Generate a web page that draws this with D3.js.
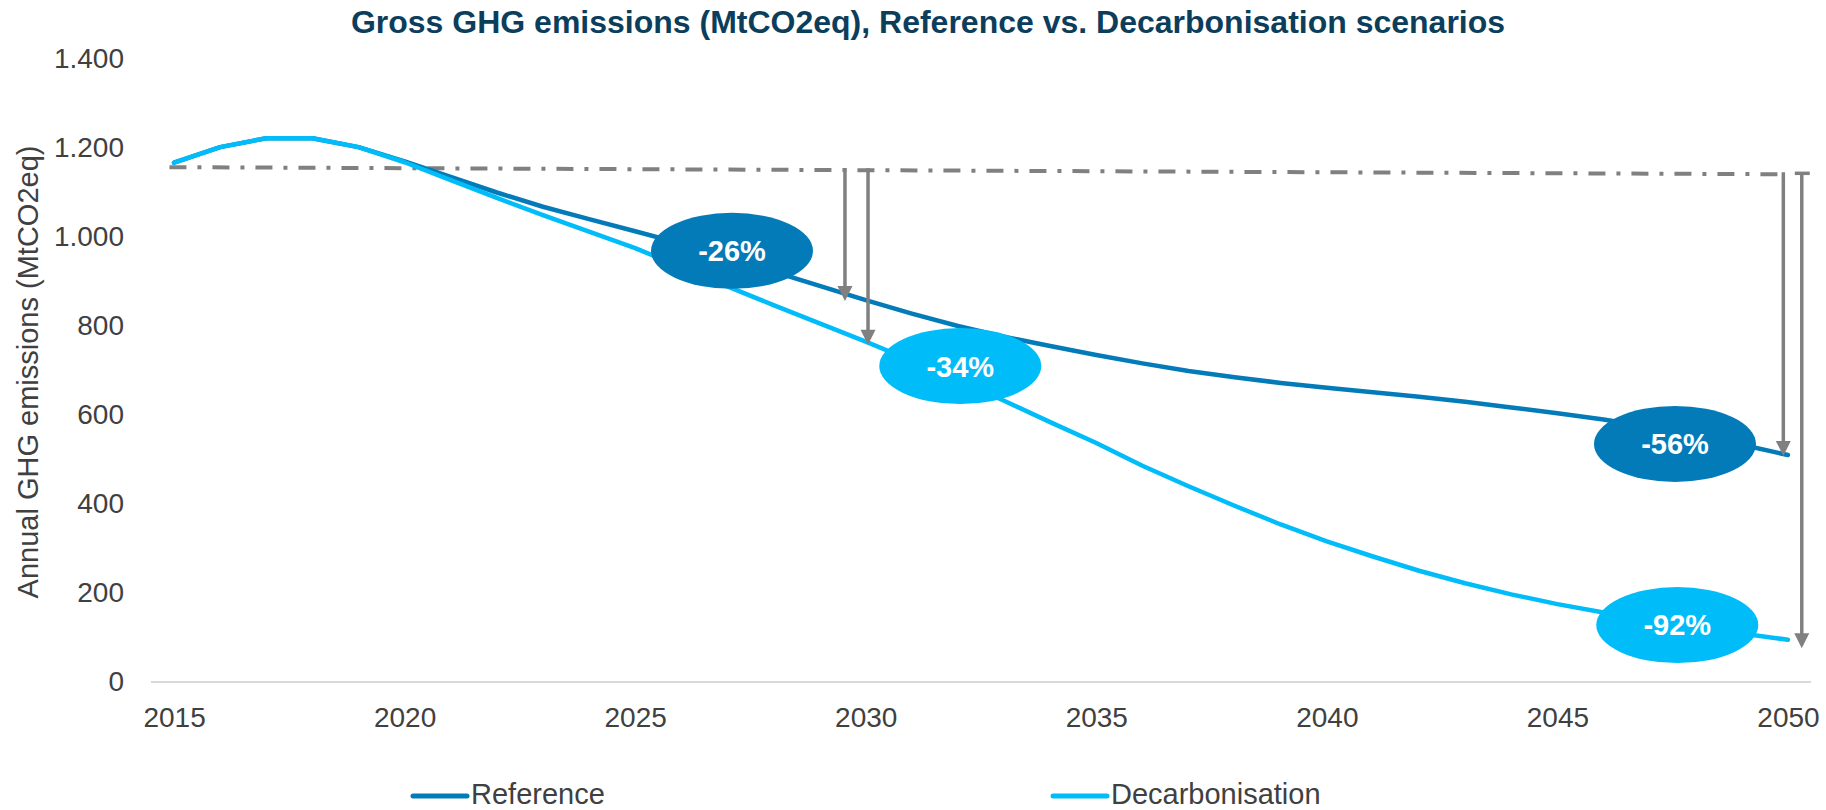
<!DOCTYPE html>
<html>
<head>
<meta charset="utf-8">
<script src="https://cdn.jsdelivr.net/npm/d3@7/dist/d3.min.js"></script>
<style>
body { margin: 0; background: #fff; }
svg text { font-family: "Liberation Sans", Arial, sans-serif; }
</style>
</head>
<body>
<div id="chart"></div>
<script>
// data
var years = [2015,2016,2017,2018,2019,2020,2021,2022,2023,2024,2025,2026,2027,2028,2029,2030,
             2031,2032,2033,2034,2035,2036,2037,2038,2039,2040,2041,2042,2043,2044,2045,2046,
             2047,2048,2049,2050];
var reference = [1167,1202,1222,1222,1202,1170,1135,1100,1068,1040,1013,985,955,922,890,858,
                 828,800,776,755,735,716,699,685,672,661,651,641,630,617,604,590,
                 573,553,533,510];
var decarbonisation = [1167,1202,1222,1222,1202,1168,1128,1088,1049,1012,975,932,889,847,806,765,
                       722,678,632,584,537,486,440,396,354,316,282,250,222,197,175,156,
                       139,124,109,95];
var yTicks = [0,200,400,600,800,1000,1200,1400];
var xTicks = [2015,2020,2025,2030,2035,2040,2045,2050];
var seriesNames = ["Reference", "Decarbonisation"];

// 2015 level line and the reduction call-outs
var baseLevel = [1157, 1141];
var bubbleLabels = ["-26%", "-34%", "-56%", "-92%"];
var bubbleSeries = [0, 1, 0, 1];
var bubbleYears = [2027.1, 2032.05, 2047.55, 2047.6];
var bubbleValues = [969, 710, 535, 128];
var arrowYears = [2029.55, 2030.05, 2049.9, 2050.3];
var arrowTargets = [856, 758, 508, 76];

var colors = ["#047bb9", "#00bdfa"];

var chart = function(options){

    var self = {};
    for (var key in options) {
        self[key] = options[key];
    }

    self.init = function(){
        self.svg = d3.select("#" + self.parentId).append("svg")
            .attr("width", self.width)
            .attr("height", self.height);

        self.x = d3.scalePoint().domain(years).range([151, 1811]).padding(0.5);
        self.xl = d3.scaleLinear().domain([2015, 2050]).range([self.x(2015), self.x(2050)]);
        self.y = d3.scaleLinear().domain([0, 1400]).range([682, 59]);

        var loc = d3.formatLocale({decimal: ",", thousands: ".", grouping: [3], currency: ["", "€"]});
        self.fmt = loc.format(",d");
    };

    self.render = function(){
        var x = self.x, xl = self.xl, y = self.y, svg = self.svg;

        // title
        svg.append("text")
            .attr("x", 928).attr("y", 33)
            .attr("text-anchor", "middle")
            .style("font-size", "32px").style("font-weight", "bold")
            .style("fill", "#0c3e5c")
            .text("Gross GHG emissions (MtCO2eq), Reference vs. Decarbonisation scenarios");

        // zero line
        svg.append("line")
            .attr("x1", 151).attr("x2", 1811)
            .attr("y1", y(0)).attr("y2", y(0))
            .style("stroke", "#d9d9d9").style("stroke-width", 2);

        svg.append("g")
            .attr("transform", "translate(151,0)")
            .call(d3.axisLeft(y).tickValues(yTicks).tickSize(0).tickPadding(27).tickFormat(self.fmt));
        svg.append("g")
            .attr("transform", "translate(0," + y(0) + ")")
            .call(d3.axisBottom(x).tickValues(xTicks).tickSize(0).tickPadding(25));
        svg.selectAll(".domain").remove();
        svg.selectAll(".tick text")
            .style("font-size", "28px").style("fill", "#404040")
            .style("font-family", "'Liberation Sans', Arial, sans-serif");

        svg.append("text")
            .attr("transform", "translate(38,372) rotate(-90)")
            .attr("text-anchor", "middle")
            .style("font-size", "29px").style("fill", "#404040")
            .text("Annual GHG emissions (MtCO2eq)");

        // dash-dot 2015 level
        svg.append("line")
            .attr("x1", xl(2014.9)).attr("x2", xl(arrowYears[2]))
            .attr("y1", y(baseLevel[0])).attr("y2", y(baseLevel[1]))
            .style("stroke", "#808080").style("stroke-width", 4)
            .style("stroke-dasharray", "17,11,4,11");

        // series
        var line = d3.line()
            .x(function(d, i) { return x(years[i]); })
            .y(function(d) { return y(d); });

        [reference, decarbonisation].forEach(function(s, k){
            svg.append("path")
                .datum(s)
                .attr("d", line)
                .style("fill", "none")
                .style("stroke", colors[k])
                .style("stroke-width", 4.5)
                .style("stroke-linejoin", "round")
                .style("stroke-linecap", "round");
        });

        // arrows
        var levelAt = function(yr){
            return baseLevel[0] + (baseLevel[1] - baseLevel[0]) * (yr - 2015) / 35;
        };
        arrowYears.forEach(function(yr, i){
            var ax = xl(yr), top = y(levelAt(yr)) - 2, tip = y(arrowTargets[i]);
            svg.append("line")
                .attr("x1", ax).attr("x2", ax)
                .attr("y1", top).attr("y2", tip - 12)
                .style("stroke", "#808080").style("stroke-width", 3.5);
            svg.append("path")
                .attr("d", "M" + (ax - 7.5) + "," + (tip - 15) + "L" + (ax + 7.5) + "," + (tip - 15) + "L" + ax + "," + tip + "Z")
                .style("fill", "#808080");
            if (i == 3) {
                svg.append("line")
                    .attr("x1", ax - 7).attr("x2", ax + 8)
                    .attr("y1", top + 1).attr("y2", top + 1)
                    .style("stroke", "#808080").style("stroke-width", 3.5);
            }
        });

        // bubbles
        var b = svg.selectAll(".bubble")
            .data(bubbleLabels)
            .enter().append("g")
            .attr("class", "bubble")
            .attr("transform", function(d, i) { return "translate(" + xl(bubbleYears[i]) + "," + y(bubbleValues[i]) + ")"; });
        b.append("ellipse")
            .attr("rx", 81).attr("ry", 38)
            .style("fill", function(d, i) { return colors[bubbleSeries[i]]; });
        b.append("text")
            .attr("text-anchor", "middle")
            .attr("dy", "0.36em")
            .style("font-size", "29px").style("font-weight", "bold")
            .style("fill", "#fff")
            .text(function(d) { return d; });

        // legend
        var legX = [413, 1053];
        seriesNames.forEach(function(name, k){
            svg.append("line")
                .attr("x1", legX[k]).attr("x2", legX[k] + 54)
                .attr("y1", 796).attr("y2", 796)
                .style("stroke", colors[k]).style("stroke-width", 5)
                .style("stroke-linecap", "round");
            svg.append("text")
                .attr("x", legX[k] + 58).attr("y", 804)
                .style("font-size", "29px").style("fill", "#404040")
                .text(name);
        });
    };

    self.init();
    return self;
};

var ghg = chart({
    parentId: "chart",
    width: 1826,
    height: 810
});

ghg.render();
</script>
</body>
</html>
